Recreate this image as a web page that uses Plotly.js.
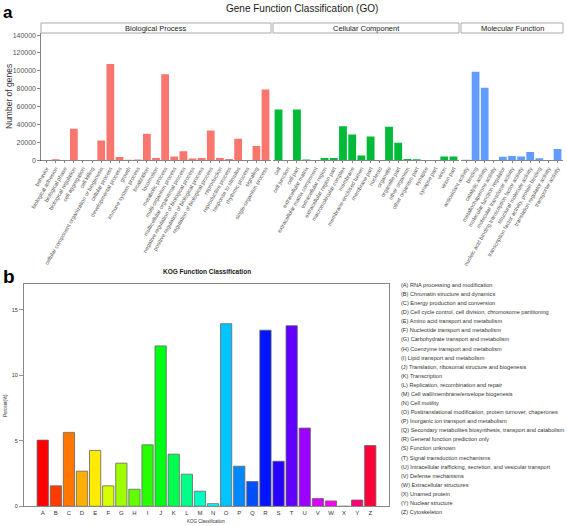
<!DOCTYPE html>
<html>
<head>
<meta charset="utf-8">
<script src="https://cdn.plot.ly/plotly-3.0.1.min.js"></script>
<style>html,body{margin:0;padding:0;background:#fff;}#chart{width:567px;height:526px;}</style>
</head>
<body>
<div id="chart"></div>
<script>
// ---- Panel a: GO classification ----
const bpTerms = ["behavior","biological adhesion","biological phase","biological regulation","cell aggregation","cell killing","cellular component organization or biogenesis","cellular process","developmental process","growth","immune system process","localization","locomotion","metabolic process","multi-organism process","multicellular organismal process","negative regulation of biological process","positive regulation of biological process","regulation of biological process","reproduction","reproductive process","response to stimulus","rhythmic process","signaling","single-organism process"];
const bpCounts = [200,1000,100,35000,50,50,22000,107500,3400,300,700,29500,2200,96000,4100,10000,1800,2200,33000,2200,1100,24000,100,15700,79000];

const ccTerms = ["cell","cell junction","cell part","extracellular matrix","extracellular matrix component","extracellular region","extracellular region part","macromolecular complex","membrane","membrane-enclosed lumen","membrane part","nucleoid","organelle","organelle part","other organism","other organism part","synapse","synapse part","virion","virion part"];
const ccCounts = [56700,100,56700,700,50,2200,2200,38000,28700,5200,26500,100,37300,19400,1100,1000,100,50,4100,4100];

const mfTerms = ["antioxidant activity","binding","catalytic activity","metallochaperone activity","molecular function regulator","molecular transducer activity","nucleic acid binding transcription factor activity","structural molecule activity","transcription factor activity, protein binding","translation regulator activity","transporter activity"];
const mfCounts = [300,98900,81000,50,3700,4500,4100,9000,1900,150,12300];

const goPanels = ["Biological Process","Cellular Component","Molecular Function"];
const goTicks = [0,20000,40000,60000,80000,100000,120000,140000];

// ---- Panel b: KOG classification ----
const kogCodes = ["A","B","C","D","E","F","G","H","I","J","K","L","M","N","O","P","Q","R","S","T","U","V","W","X","Y","Z"];
const kogPercent = [5.05,1.56,5.64,2.68,4.26,1.56,3.29,1.30,4.69,12.24,3.98,2.45,1.15,0.20,13.93,3.06,1.89,13.44,3.44,13.78,5.97,0.59,0.41,0,0.48,4.64];
const kogNames = ["RNA processing and modification","Chromatin structure and dynamics","Energy production and conversion","Cell cycle control, cell division, chromosome partitioning","Amino acid transport and metabolism","Nucleotide transport and metabolism","Carbohydrate transport and metabolism","Coenzyme transport and metabolism","Lipid transport and metabolism","Translation, ribosomal structure and biogenesis","Transcription","Replication, recombination and repair","Cell wall/membrane/envelope biogenesis","Cell motility","Posttranslational modification, protein turnover, chaperones","Inorganic ion transport and metabolism","Secondary metabolites biosynthesis, transport and catabolism","General function prediction only","Function unknown","Signal transduction mechanisms","Intracellular trafficking, secretion, and vesicular transport","Defense mechanisms","Extracellular structures","Unamed protein","Nuclear structure","Cytoskeleton"];
const kogTicks = [0,5,10,15];

// ---- layout helpers ----
const W = 567, H = 526;
const px = x => x / W;
const py = y => 1 - y / H;
const FONT = "Liberation Sans, Arial, sans-serif";

const goColors = ["#F8766D","#00BA38","#619CFF"];
const goDomains = [[41,271],[273,459],[461,563]];
const goData = [[bpTerms,bpCounts],[ccTerms,ccCounts],[mfTerms,mfCounts]];

const traces = [];
const layout = {
  width: W, height: H,
  margin: {l:0,r:0,t:0,b:0},
  paper_bgcolor: "#fff", plot_bgcolor: "rgba(0,0,0,0)",
  showlegend: false,
  font: {family: FONT, color: "#333"},
  bargap: 0.15,
  shapes: [], annotations: []
};

goData.forEach((d, k) => {
  const ax = k === 0 ? "" : String(k + 1);
  traces.push({
    type: "bar", x: d[0].map((_, i) => i), y: d[1],
    xaxis: "x" + ax, yaxis: "y",
    marker: {color: goColors[k], line: {width: 0}},
    width: 0.85, hoverinfo: "x+y"
  });
  layout["xaxis" + ax] = {
    domain: [px(goDomains[k][0]), px(goDomains[k][1])],
    anchor: "y",
    range: [-0.6, d[0].length - 0.4],
    tickmode: "array", tickvals: d[0].map((_, i) => i), ticktext: d[0],
    tickangle: -60,
    tickfont: {size: 5.5, color: "#555", family: FONT},
    ticks: "outside", ticklen: 2, tickwidth: 0.6, tickcolor: "#333",
    showline: true, linecolor: "#333", linewidth: 0.6,
    showgrid: false, zeroline: false, fixedrange: true
  };
  // facet strip
  layout.shapes.push({
    type: "rect", xref: "paper", yref: "paper",
    x0: px(goDomains[k][0]), x1: px(goDomains[k][1]),
    y0: py(33), y1: py(23),
    fillcolor: "#fff", line: {color: "#aaa", width: 1}
  });
  layout.annotations.push({
    xref: "paper", yref: "paper",
    x: px((goDomains[k][0] + goDomains[k][1]) / 2), y: py(28),
    text: goPanels[k], showarrow: false,
    xanchor: "center", yanchor: "middle",
    font: {size: 7.5, color: "#1a1a1a", family: FONT}
  });
});

layout.yaxis = {
  domain: [py(160.6), py(33)],
  anchor: "x",
  range: [-600, 142300],
  tickmode: "array", tickvals: goTicks, tickformat: "d",
  tickfont: {size: 7, color: "#555", family: FONT},
  ticks: "outside", ticklen: 3, tickwidth: 0.6, tickcolor: "#333",
  showline: true, linecolor: "#333", linewidth: 0.6,
  showgrid: false, zeroline: false, fixedrange: true
};

// Panel a texts
layout.annotations.push(
  {xref:"paper",yref:"paper",x:px(1),y:py(1),xanchor:"left",yanchor:"top",text:"<b>a</b>",showarrow:false,font:{size:17,color:"#000",family:FONT}},
  {xref:"paper",yref:"paper",x:px(302),y:py(8.5),xanchor:"center",yanchor:"middle",text:"Gene Function Classification (GO)",showarrow:false,font:{size:10,color:"#1a1a1a",family:FONT}},
  {xref:"paper",yref:"paper",x:px(9),y:py(97),xanchor:"center",yanchor:"middle",textangle:-90,text:"Number of genes",showarrow:false,font:{size:8.5,color:"#333",family:FONT}}
);

// ---- Panel b ----
traces.push({
  type: "bar", x: kogCodes.map((_, i) => i), y: kogPercent,
  xaxis: "x4", yaxis: "y2",
  marker: {color: kogCodes.map((_, i) => "hsl(" + (i * 360 / 26).toFixed(1) + ",100%,50%)"),
           line: {color: "#666", width: 0.8}},
  width: 0.86, hoverinfo: "x+y"
});
layout.xaxis4 = {
  domain: [px(24), px(389)],
  anchor: "y2",
  range: [-1.43, 26.43],
  tickmode: "array", tickvals: kogCodes.map((_, i) => i), ticktext: kogCodes,
  tickfont: {size: 6, color: "#333", family: FONT},
  ticks: "",
  showline: true, mirror: true, linecolor: "#888", linewidth: 1,
  showgrid: false, zeroline: false, fixedrange: true
};
layout.yaxis2 = {
  domain: [py(506.3), py(283.5)],
  anchor: "x4",
  range: [0, 17],
  tickmode: "array", tickvals: kogTicks,
  tickfont: {size: 5.5, color: "#333", family: FONT},
  ticks: "outside", ticklen: 4, tickwidth: 0.6, tickcolor: "#555",
  showline: true, mirror: true, linecolor: "#888", linewidth: 1,
  showgrid: false, zeroline: false, fixedrange: true
};

layout.annotations.push(
  {xref:"paper",yref:"paper",x:px(1),y:py(264),xanchor:"left",yanchor:"top",text:"<b>b</b>",showarrow:false,font:{size:19,color:"#000",family:FONT}},
  {xref:"paper",yref:"paper",x:px(207),y:py(271.5),xanchor:"center",yanchor:"middle",text:"<b>KOG Function Classification</b>",showarrow:false,font:{size:6.5,color:"#1a1a1a",family:FONT}},
  {xref:"paper",yref:"paper",x:px(206),y:py(521.5),xanchor:"center",yanchor:"middle",text:"KOG Classification",showarrow:false,font:{size:4.5,color:"#333",family:FONT}},
  {xref:"paper",yref:"paper",x:px(5),y:py(406),xanchor:"center",yanchor:"middle",textangle:-90,text:"Percent(%)",showarrow:false,font:{size:4.5,color:"#333",family:FONT}}
);

kogCodes.forEach((c, i) => {
  layout.annotations.push({
    xref:"paper", yref:"paper", x: px(399), y: py(285 + i * 9.08),
    xanchor:"left", yanchor:"middle",
    text: "(" + c + ") " + kogNames[i], showarrow:false,
    font:{size:5.6, color:"#333", family:FONT}
  });
});

Plotly.newPlot("chart", traces, layout, {displayModeBar: false, staticPlot: true});
</script>
</body>
</html>
